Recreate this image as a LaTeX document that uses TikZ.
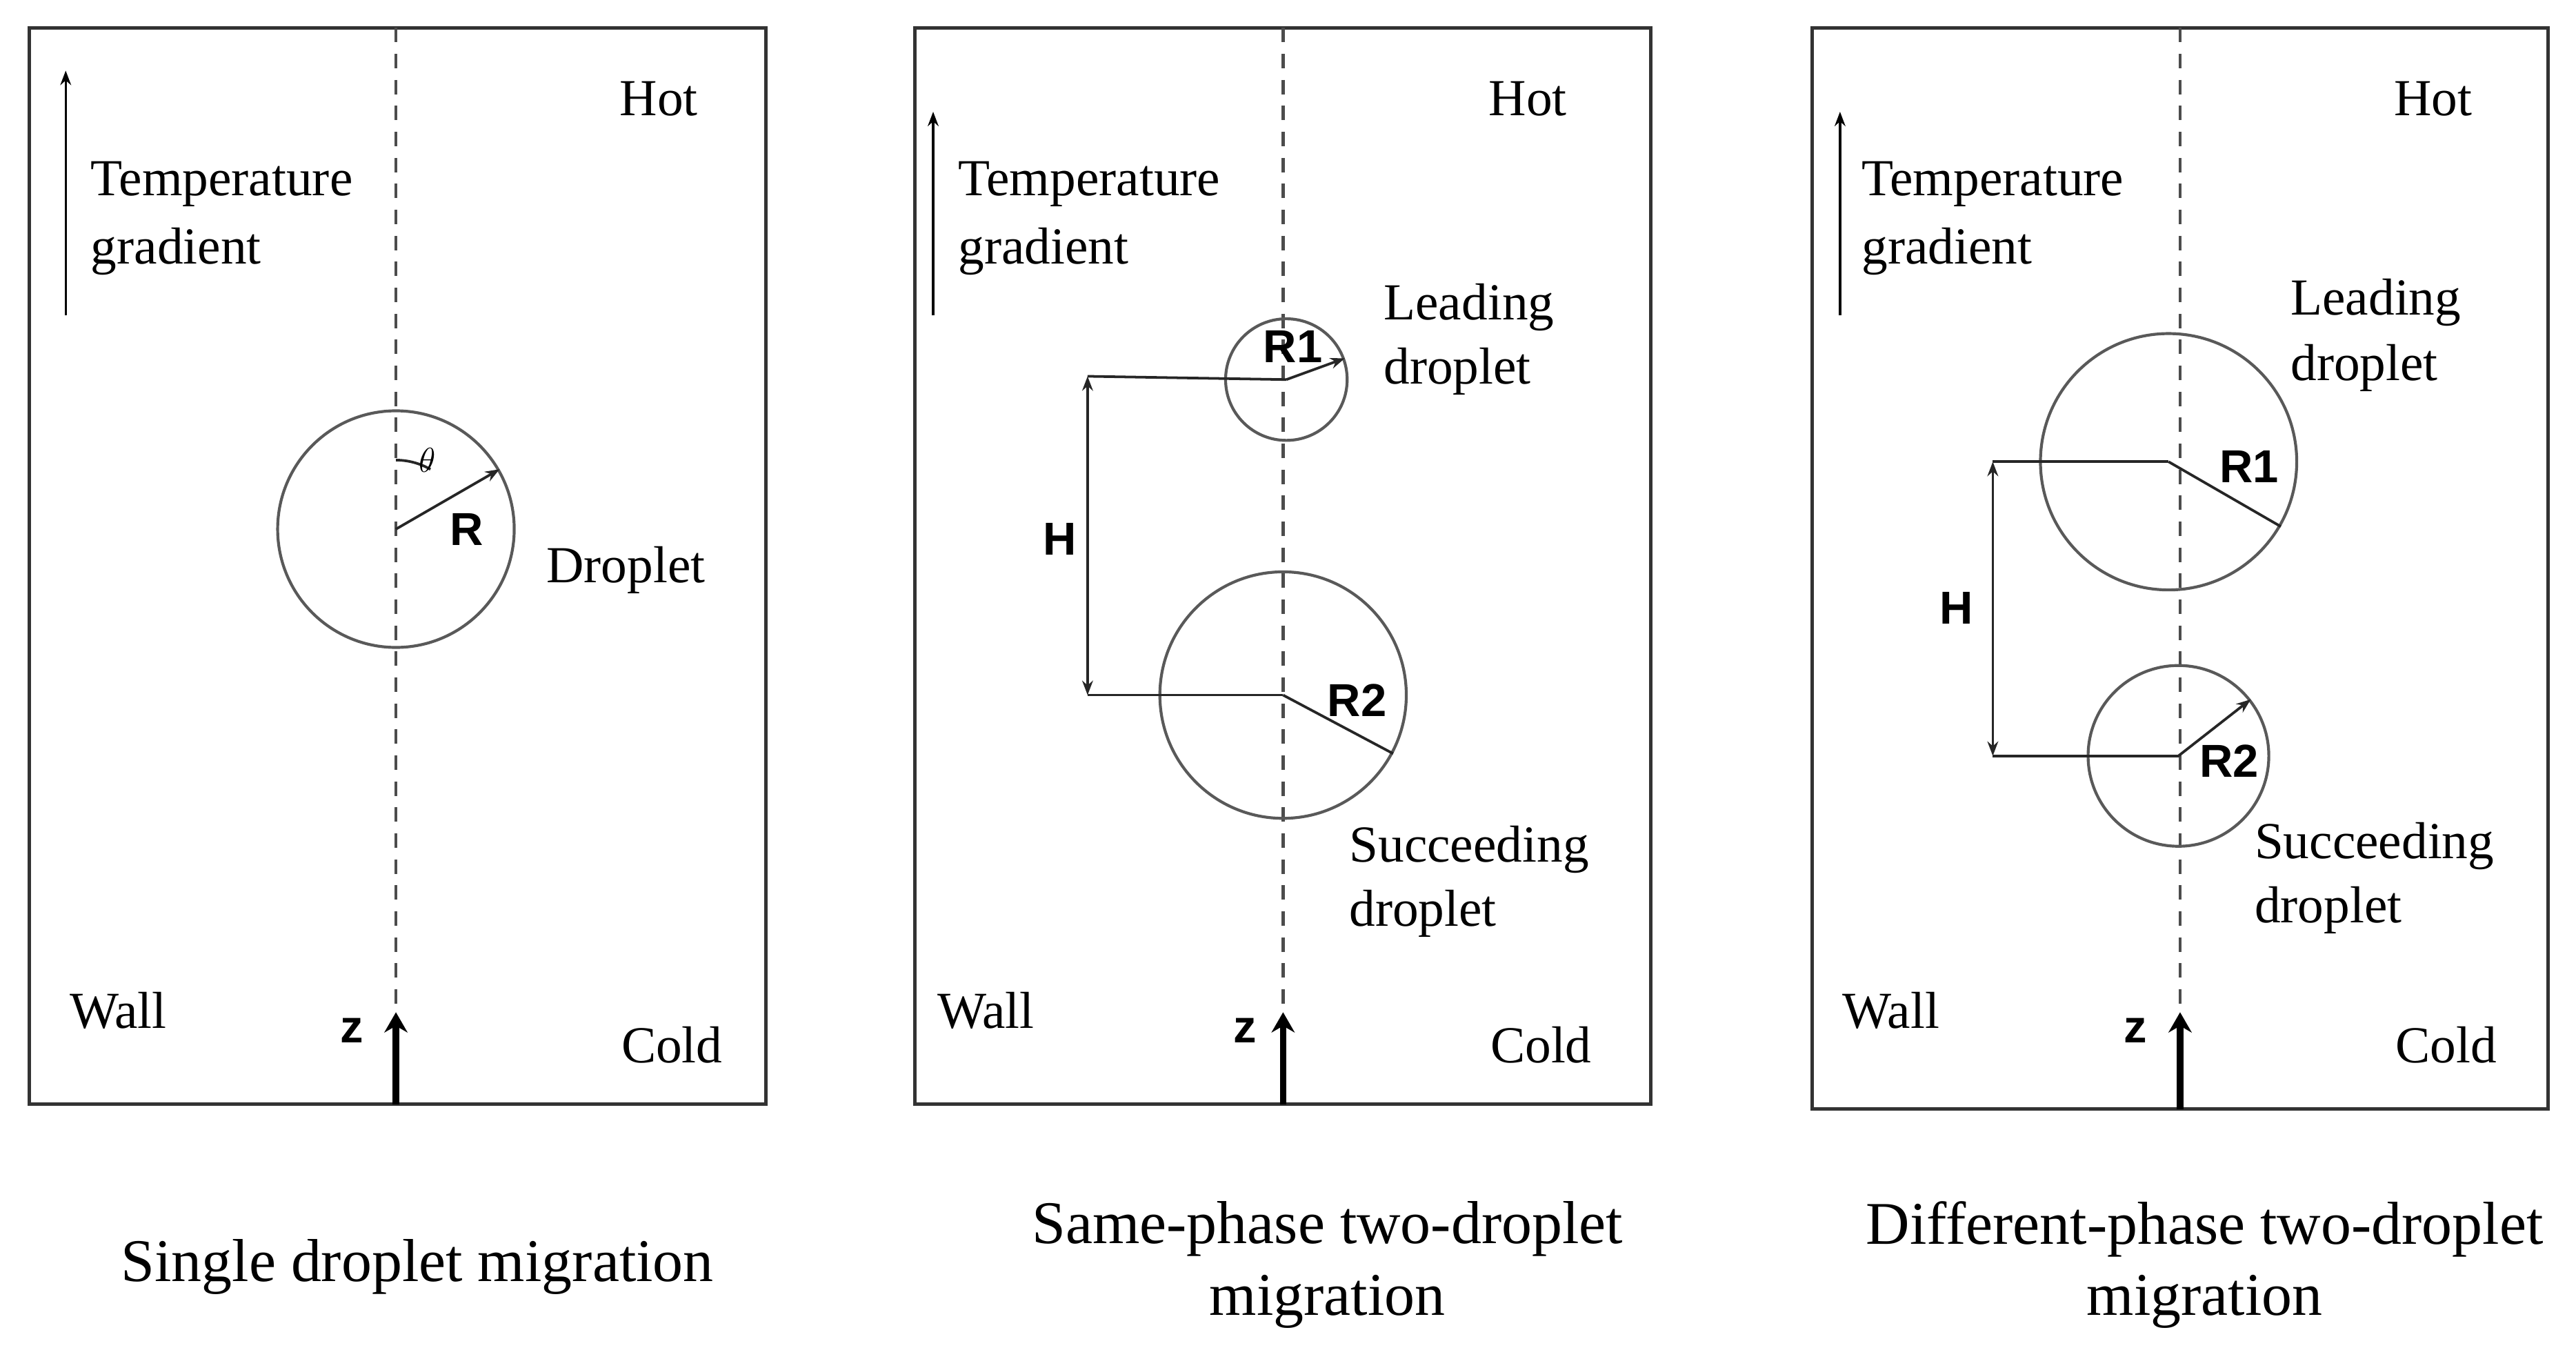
\documentclass[tikz,border=0pt]{standalone}
\usepackage{fontspec}
\usetikzlibrary{arrows.meta}
\setmainfont{Liberation Serif}
\newfontfamily\sansb{Liberation Sans}
\begin{document}
\begin{tikzpicture}[x=0.02cm,y=-0.02cm,
  lbl/.style={font=\fontsize{18}{22}\selectfont,inner sep=0pt},
  captxt/.style={font=\fontsize{21}{25}\selectfont,inner sep=0pt},
  bl/.style={font=\sansb\bfseries\fontsize{16}{19}\selectfont,inner sep=0pt},
  box/.style={draw=black!80,line width=1.2pt},
  drop/.style={draw=black!65,line width=1pt},
  axis/.style={draw=black!70,line width=1.1pt,dash pattern=on 5pt off 4pt},
  thin/.style={draw=black!85,line width=0.9pt},
  zarr/.style={-{Stealth[length=7pt,width=8pt]},line width=2.2pt},
  tg/.style={-{Stealth[length=5pt]},line width=0.8pt}]
\useasboundingbox (0,0) rectangle (1568,827);
% ===== Panel 1 =====
\draw[box] (18,17) rectangle (466,672);
\draw[axis] (241,17) -- (241,672);
\node[drop,circle,minimum size=144*0.02cm,inner sep=0] (c1) at (241,322) {};
\draw[thin,-{Stealth[length=5pt]}] (c1.center) -- (c1.30);
\draw[thin] (241,280) arc[start angle=-90,end angle=-60,radius=42];
\node[font=\fontsize{12}{14}\selectfont] (th) at (260,280) {$\theta$};
\node[bl] (r) at (284,322) {R};
\node[lbl] (d1) at (381,347) {Droplet};
\coordinate (t1a) at (40,192); \coordinate (t1b) at (40,43);
\draw[tg] (t1a) -- (t1b);
\node[lbl,anchor=west] (tg1) at (55,112) {Temperature};
\node[lbl,anchor=west] (tg1b) at (55,153) {gradient};
\node[lbl] (h1) at (401,60) {Hot};
\node[lbl] (w1) at (72,615) {Wall};
\node[lbl] (co1) at (409,636) {Cold};
\coordinate (z1a) at (241,672); \coordinate (z1b) at (241,616);
\draw[zarr] (z1a) -- (z1b);
\node[bl] (z1) at (214,627) {z};
\node[captxt] (cp1) at (254,771) {Single droplet migration};
% ===== Panel 2 =====
\draw[box] (557,17) rectangle (1005,672);
\draw[axis] (781,17) -- (781,672);
\node[drop,circle,minimum size=74*0.02cm,inner sep=0] (l2) at (783,231) {};
\node[drop,circle,minimum size=150*0.02cm,inner sep=0] (s2) at (781,423) {};
\draw[thin,-{Stealth[length=5pt]}] (l2.center) -- (l2.20);
\draw[thin] (s2.center) -- (s2.-28);
\coordinate (h2a) at (662,229); \coordinate (h2b) at (662,423);
\draw[thin] (h2a) -- (l2.center);
\draw[thin] (h2b) -- (s2.center);
\draw[thin,{Stealth[length=5pt]}-{Stealth[length=5pt]}] (h2a) -- (h2b);
\node[bl] (H2) at (645,328) {H};
\node[bl] (R12) at (787,211) {R1};
\node[bl] (R22) at (826,426) {R2};
\node[lbl,anchor=west] (ld2) at (842,187) {Leading};
\node[lbl,anchor=west] (ld2b) at (842,226) {droplet};
\node[lbl,anchor=west] (sd2) at (821,517) {Succeeding};
\node[lbl,anchor=west] (sd2b) at (821,556) {droplet};
\coordinate (t2a) at (568,192); \coordinate (t2b) at (568,68);
\draw[tg] (t2a) -- (t2b);
\node[lbl,anchor=west] (tg2) at (583,112) {Temperature};
\node[lbl,anchor=west] (tg2b) at (583,153) {gradient};
\node[lbl] (h2) at (930,60) {Hot};
\node[lbl] (w2) at (600,615) {Wall};
\node[lbl] (co2) at (938,636) {Cold};
\coordinate (z2a) at (781,672); \coordinate (z2b) at (781,616);
\draw[zarr] (z2a) -- (z2b);
\node[bl] (z2) at (758,627) {z};
\node[captxt] (cp2) at (808,748) {Same-phase two-droplet};
\node[captxt] (cp2b) at (808,792) {migration};
% ===== Panel 3 =====
\draw[box] (1103,17) rectangle (1551,675);
\draw[axis] (1327,17) -- (1327,675);
\node[drop,circle,minimum size=156*0.02cm,inner sep=0] (l3) at (1320,281) {};
\node[drop,circle,minimum size=110*0.02cm,inner sep=0] (s3) at (1326,460) {};
\draw[thin] (l3.center) -- (l3.-30);
\draw[thin,-{Stealth[length=5pt]}] (s3.center) -- (s3.38);
\coordinate (h3a) at (1213,281); \coordinate (h3b) at (1213,460);
\draw[thin] (h3a) -- (l3.center);
\draw[thin] (h3b) -- (s3.center);
\draw[thin,{Stealth[length=5pt]}-{Stealth[length=5pt]}] (h3a) -- (h3b);
\node[bl] (H3) at (1191,370) {H};
\node[bl] (R13) at (1369,284) {R1};
\node[bl] (R23) at (1357,463) {R2};
\node[lbl,anchor=west] (ld3) at (1394,184) {Leading};
\node[lbl,anchor=west] (ld3b) at (1394,224) {droplet};
\node[lbl,anchor=west] (sd3) at (1372,515) {Succeeding};
\node[lbl,anchor=west] (sd3b) at (1372,554) {droplet};
\coordinate (t3a) at (1120,192); \coordinate (t3b) at (1120,68);
\draw[tg] (t3a) -- (t3b);
\node[lbl,anchor=west] (tg3) at (1133,112) {Temperature};
\node[lbl,anchor=west] (tg3b) at (1133,153) {gradient};
\node[lbl] (h3) at (1481,60) {Hot};
\node[lbl] (w3) at (1151,615) {Wall};
\node[lbl] (co3) at (1489,636) {Cold};
\coordinate (z3a) at (1327,675); \coordinate (z3b) at (1327,616);
\draw[zarr] (z3a) -- (z3b);
\node[bl] (z3) at (1300,627) {z};
\node[captxt] (cp3) at (1342,748) {Different-phase two-droplet};
\node[captxt] (cp3b) at (1342,792) {migration};
\end{tikzpicture}
\end{document}
